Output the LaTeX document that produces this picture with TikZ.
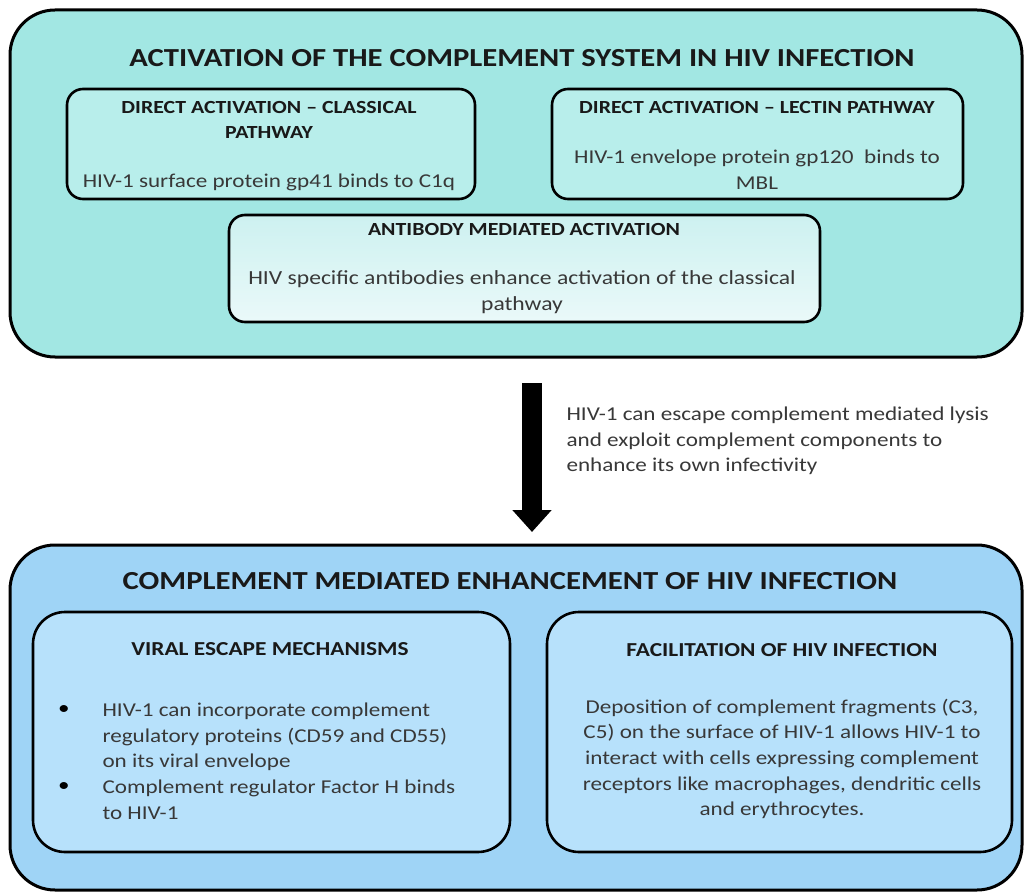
\documentclass[tikz,border=0pt]{standalone}
\usepackage{fontspec}
\setmainfont[FakeStretch=1.18]{Carlito}
\usetikzlibrary{arrows.meta}

\definecolor{topfill}{HTML}{A2E7E3}
\definecolor{pathfill}{HTML}{B8EEEB}
\definecolor{abtop}{HTML}{CDF1F0}
\definecolor{abbot}{HTML}{EAF9F9}
\definecolor{botfill}{HTML}{9FD4F6}
\definecolor{mechfill}{HTML}{B7E1FB}
\definecolor{bodygray}{HTML}{383838}

\tikzset{
  outerbox/.style={draw=black,line width=3pt,rounded corners=45pt},
  pathbox/.style={draw=black,line width=2.6pt,rounded corners=16pt},
  mechbox/.style={draw=black,line width=2.6pt,rounded corners=32pt},
  maintitle/.style={font=\fontsize{26}{30}\selectfont\bfseries,text=black!90},
  boxtitle/.style={font=\fontsize{18.5}{24.5}\selectfont\bfseries,text=black!90,align=center},
  mechtitle/.style={boxtitle,font=\fontsize{19.8}{24.5}\selectfont\bfseries},
  bodytext/.style={font=\fontsize{19.6}{25.7}\selectfont,text=bodygray,align=center},
  bigarrow/.style={line width=20pt,-{Triangle[width=38pt,length=22pt]}}
}

\begin{document}
\begin{tikzpicture}[x=1pt,y=-1pt]
  \useasboundingbox (0,0) rectangle (1025,893);
  \fill[white] (0,0) rectangle (1025,893);

  % activation of the complement system
  \draw[outerbox,fill=topfill] (10,10) rectangle (1022,357);
  \node[maintitle] (toptitle) at (522,58)
    {ACTIVATION OF THE COMPLEMENT SYSTEM IN HIV INFECTION};

  \draw[pathbox,fill=pathfill] (67,89) rectangle (475,199);
  \node[boxtitle] (classtitle) at (269,120)
    {DIRECT ACTIVATION -- CLASSICAL\\PATHWAY};
  \node[bodytext] (classbody) at (269,182)
    {HIV-1 surface protein gp41 binds to C1q};

  \draw[pathbox,fill=pathfill] (552,89) rectangle (963,199);
  \node[boxtitle] (lectitle) at (757,108)
    {DIRECT ACTIVATION -- LECTIN PATHWAY};
  \node[bodytext] (lecbody) at (757,170)
    {HIV-1 envelope protein gp120\ \ binds to\\MBL};

  \draw[pathbox,top color=abtop,bottom color=abbot] (229,215) rectangle (820,322);
  \node[boxtitle] (abtitle) at (524,229)
    {ANTIBODY MEDIATED ACTIVATION};
  \node[bodytext,font=\fontsize{20}{25.5}\selectfont] (abbody) at (522,292)
    {HIV specific antibodies enhance activation of the classical\\pathway};

  % escape arrow
  \coordinate (arrtop) at (532,383);
  \coordinate (arrbot) at (532,532);
  \draw[bigarrow] (arrtop) -- (arrbot);
  \node[bodytext,align=left,anchor=west] (escapetext) at (563,441)
    {HIV-1 can escape complement mediated lysis\\
     and exploit complement components to\\
     enhance its own infectivity};

  % complement mediated enhancement
  \draw[outerbox,fill=botfill] (10,545) rectangle (1022,890);
  \node[maintitle] (bottitle) at (510,581)
    {COMPLEMENT MEDIATED ENHANCEMENT OF HIV INFECTION};

  \draw[mechbox,fill=mechfill] (33,612) rectangle (510,852);
  \node[mechtitle] (esctitle) at (270,649)
    {VIRAL ESCAPE MECHANISMS};
  \node[bodytext,text=black] (bulA) at (64,710) {\textbullet};
  \node[bodytext,text=black] (bulB) at (64,787) {\textbullet};
  \node[bodytext,align=left,anchor=west] (escbody) at (99,761)
    {HIV-1 can incorporate complement\\
     regulatory proteins (CD59 and CD55)\\
     on its viral envelope\\
     Complement regulator Factor H binds\\
     to HIV-1};

  \draw[mechbox,fill=mechfill] (547,612) rectangle (1012,852);
  \node[mechtitle] (factitle) at (782,650)
    {FACILITATION OF HIV INFECTION};
  \node[bodytext] (facbody) at (782,759)
    {Deposition of complement fragments (C3,\\
     C5) on the surface of HIV-1 allows HIV-1 to\\
     interact with cells expressing complement\\
     receptors like macrophages, dendritic cells\\
     and erythrocytes.};
\end{tikzpicture}
\end{document}
